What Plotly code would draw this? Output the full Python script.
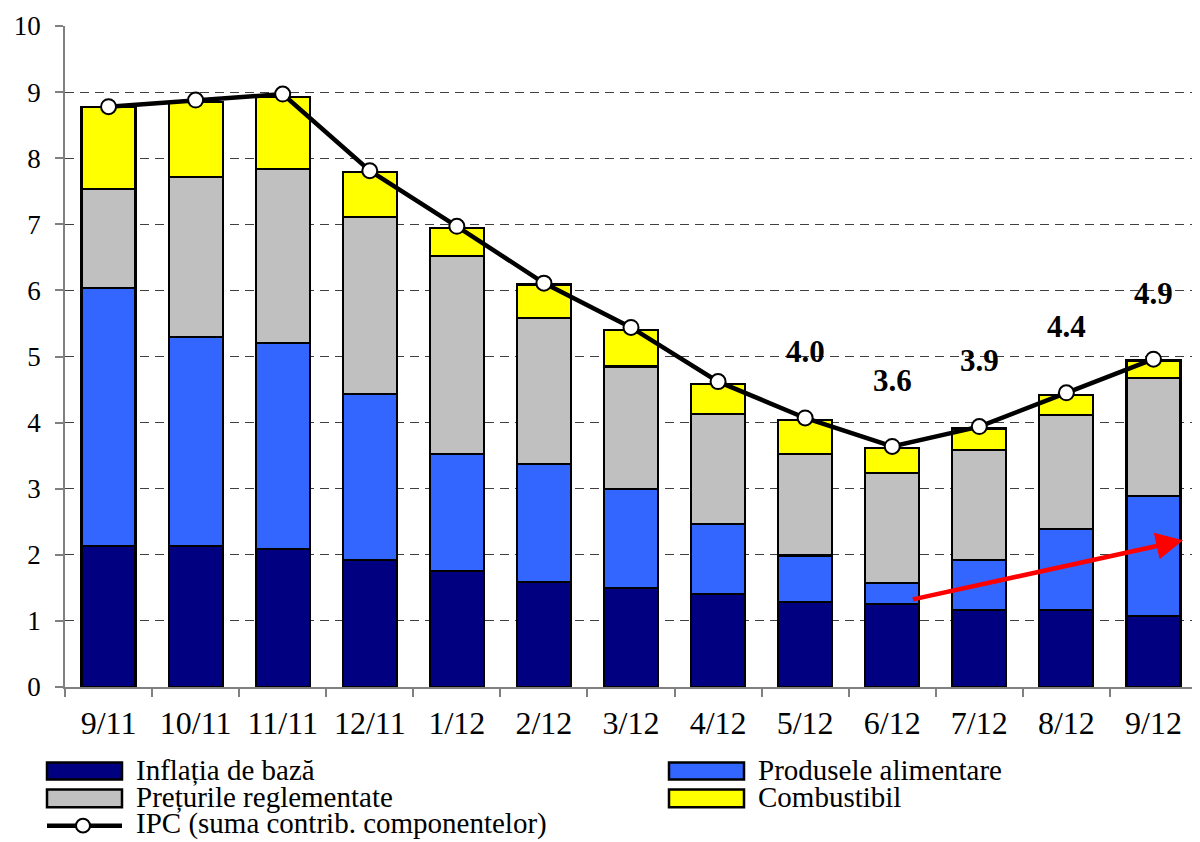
import plotly.graph_objects as go

categories = ["9/11", "10/11", "11/11", "12/11", "1/12", "2/12", "3/12",
              "4/12", "5/12", "6/12", "7/12", "8/12", "9/12"]
core = [2.13, 2.13, 2.09, 1.92, 1.75, 1.59, 1.50, 1.41, 1.28, 1.25, 1.16, 1.16, 1.07]
food = [3.91, 3.16, 3.11, 2.51, 1.78, 1.78, 1.49, 1.06, 0.71, 0.32, 0.76, 1.23, 1.82]
admin = [1.49, 2.42, 2.64, 2.68, 2.99, 2.21, 1.86, 1.66, 1.54, 1.67, 1.66, 1.73, 1.79]
fuel = [1.24, 1.14, 1.09, 0.68, 0.42, 0.51, 0.55, 0.46, 0.51, 0.38, 0.33, 0.30, 0.26]
ipc = [8.78, 8.88, 8.97, 7.81, 6.97, 6.11, 5.44, 4.62, 4.07, 3.64, 3.94, 4.45, 4.96]
label_cats = ["5/12", "6/12", "7/12", "8/12", "9/12"]
label_texts = ["4.0", "3.6", "3.9", "4.4", "4.9"]
y_ticks = list(range(0, 11))

series_names = ["Inflația de bază", "Produsele alimentare",
                "Prețurile reglementate", "Combustibil"]
colors = ["#000080", "#3366FF", "#C0C0C0", "#FFFF00"]
line_name = "IPC (suma contrib. componentelor)"

FONT = "Liberation Serif, Times New Roman, serif"

fig = go.Figure()
for name, vals, col in zip(series_names, [core, food, admin, fuel], colors):
    fig.add_trace(go.Bar(x=categories, y=vals, name=name, marker_color=col,
                         marker_line_color="black", marker_line_width=2.2,
                         width=0.62, showlegend=False))

fig.add_trace(go.Scatter(x=categories, y=ipc, mode="lines+markers", name=line_name,
                         line=dict(color="black", width=4.5),
                         marker=dict(symbol="circle", size=15, color="white",
                                     line=dict(color="black", width=2)),
                         showlegend=False))

annotations = []
for c, t in zip(label_cats, label_texts):
    i = categories.index(c)
    annotations.append(dict(x=c, y=ipc[i], text="<b>%s</b>" % t, showarrow=False,
                            yshift=66, font=dict(family=FONT, size=31, color="black")))

# red trend arrow
annotations.append(dict(x=12.34, y=2.22, ax=9.22, ay=1.32, xref="x", yref="y",
                        axref="x", ayref="y", text="", showarrow=True,
                        arrowcolor="#FF0000", arrowwidth=4.5, arrowhead=2,
                        arrowsize=1.2))

# page offset: the browser body margin shifts the figure by 8 px
OFF = 8
W, H = 1200 - OFF, 842 - OFF
# plot area in page pixels
L, R, T, B = 65, 1197, 22, 687

def xp(px):
    return (px - L) / (R - L)

def yp(py):
    return (B - py) / (B - T)

LEG_FS = 29
shapes = []
legend_items = [
    (47, 122, 763, 780, 134, 771, series_names[0], colors[0]),
    (669, 744, 763, 780, 756, 771, series_names[1], colors[1]),
    (47, 122, 790, 808, 134, 797.5, series_names[2], colors[2]),
    (669, 744, 790, 808, 756, 797.5, series_names[3], colors[3]),
]
for x0, x1, y0, y1, tx, ty, name, col in legend_items:
    shapes.append(dict(type="rect", xref="paper", yref="paper",
                       x0=xp(x0), x1=xp(x1), y0=yp(y1), y1=yp(y0),
                       fillcolor=col, line=dict(color="black", width=2.5)))
    annotations.append(dict(x=xp(tx), y=yp(ty), xref="paper", yref="paper",
                            xanchor="left", yanchor="middle", text=name, showarrow=False,
                            font=dict(family=FONT, size=LEG_FS, color="black")))
shapes.append(dict(type="line", xref="paper", yref="paper",
                   x0=xp(47), x1=xp(122), y0=yp(826.5), y1=yp(826.5),
                   line=dict(color="black", width=4.5)))
shapes.append(dict(type="circle", xref="paper", yref="paper",
                   x0=xp(76), x1=xp(90), y0=yp(833.5), y1=yp(819.5),
                   fillcolor="white", line=dict(color="black", width=2)))
annotations.append(dict(x=xp(134), y=yp(824.5), xref="paper", yref="paper",
                        xanchor="left", yanchor="middle", text=line_name, showarrow=False,
                        font=dict(family=FONT, size=LEG_FS, color="black")))

fig.update_layout(
    width=W, height=H,
    margin=dict(l=L - OFF, r=1200 - R, t=T - OFF, b=842 - B, pad=0),
    paper_bgcolor="white", plot_bgcolor="white",
    barmode="stack",
    showlegend=False,
    font=dict(family=FONT, size=27, color="black"),
    annotations=annotations,
    shapes=shapes,
)
fig.update_xaxes(type="category", range=[-0.5, 12.5], showgrid=False,
                 showline=True, linecolor="#808080", linewidth=1.5,
                 ticks="outside", tickson="boundaries", ticklen=8,
                 tickcolor="#808080", tickwidth=1.5,
                 tickfont=dict(family=FONT, size=32, color="black"),
                 ticklabelstandoff=7)
fig.update_yaxes(range=[0, 10], tickvals=y_ticks, showgrid=True,
                 gridcolor="#404040", griddash="9px,6px", gridwidth=1,
                 showline=True, linecolor="#808080", linewidth=1.5,
                 ticks="outside", ticklen=8, tickcolor="#808080", tickwidth=1.5,
                 tickfont=dict(family=FONT, size=27, color="black"),
                 ticklabelstandoff=9, ticklabeloverflow="allow", zeroline=False)

fig.write_html("out.html")
